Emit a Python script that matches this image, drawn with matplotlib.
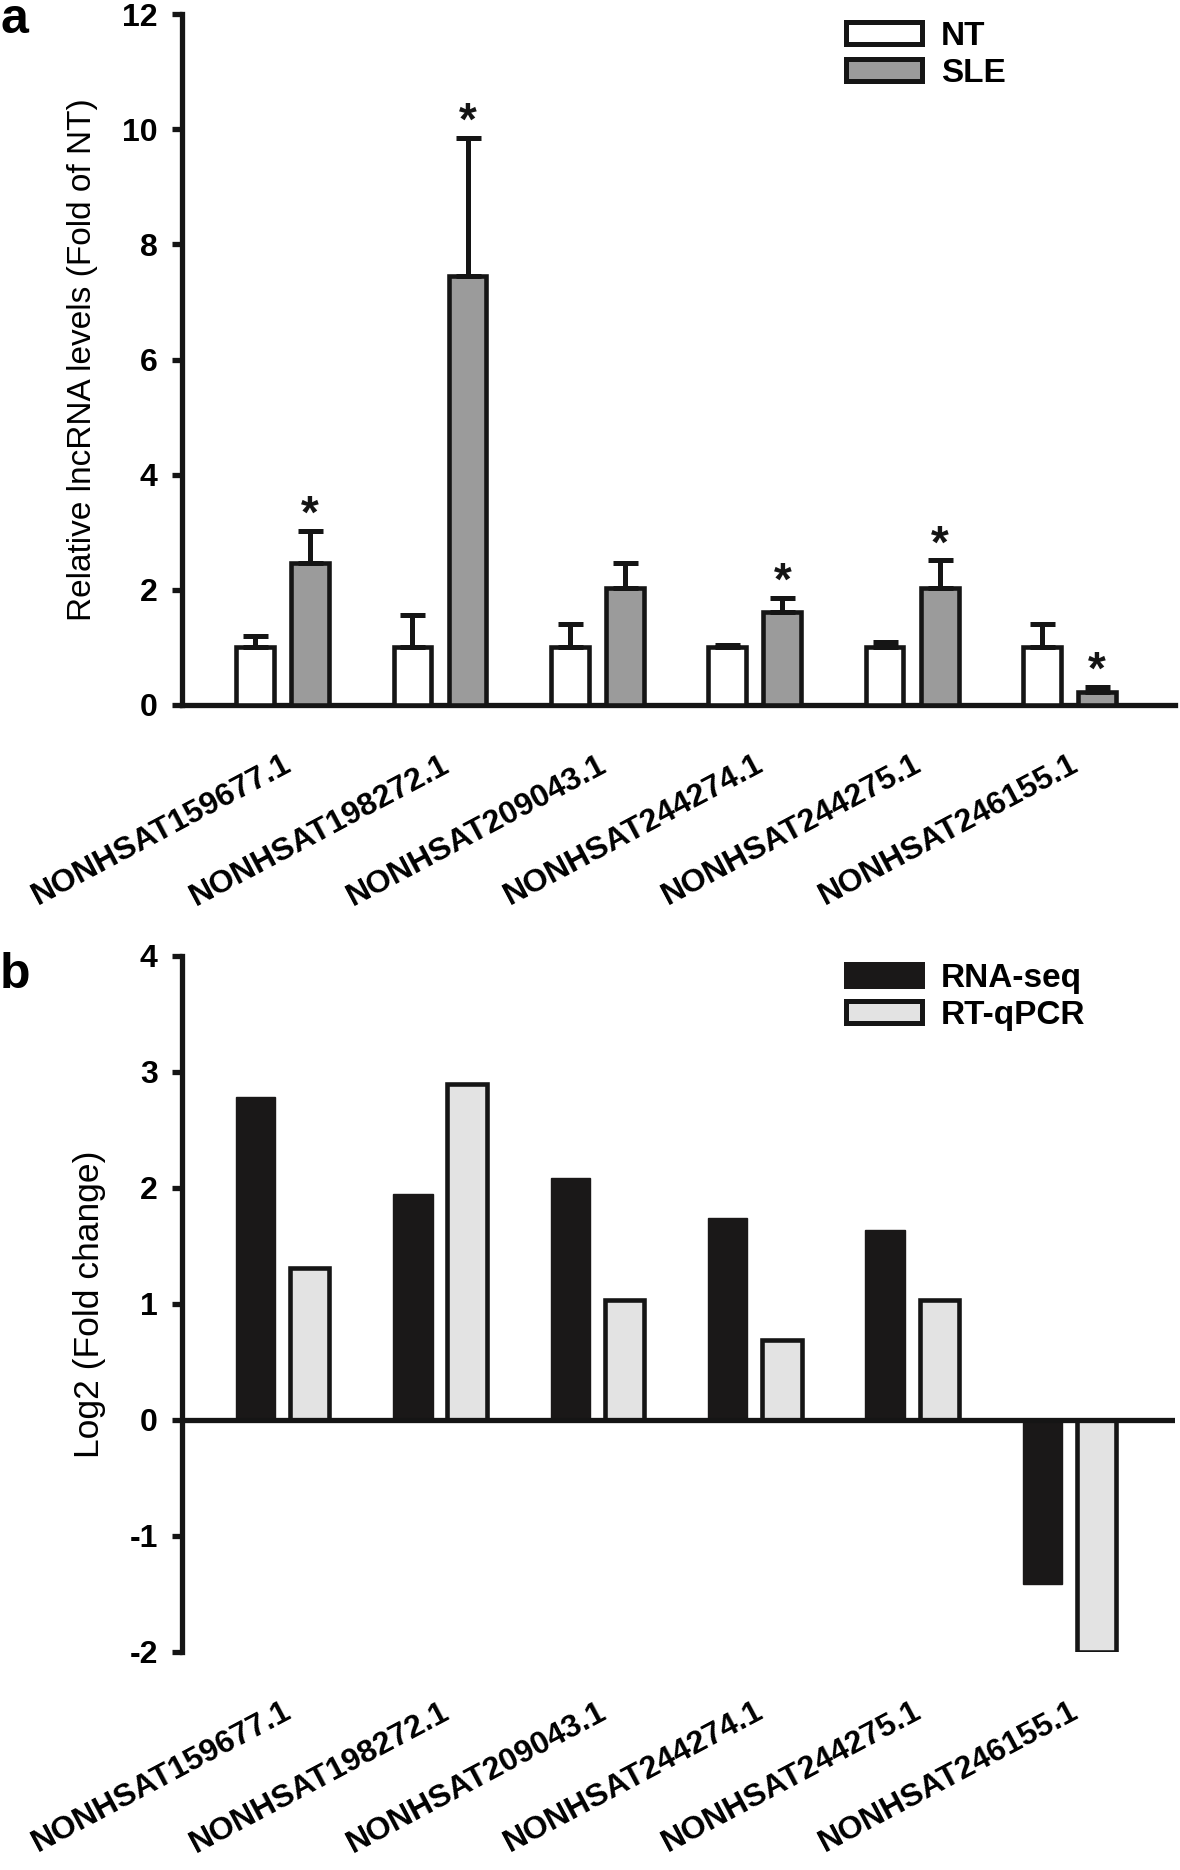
import matplotlib
matplotlib.use('Agg')
import matplotlib.pyplot as plt
import numpy as np
from matplotlib.patches import Patch

plt.rcParams['font.family'] = ['Liberation Sans', 'DejaVu Sans']
plt.rcParams['axes.unicode_minus'] = False

# data
genes = ['NONHSAT159677.1', 'NONHSAT198272.1', 'NONHSAT209043.1',
         'NONHSAT244274.1', 'NONHSAT244275.1', 'NONHSAT246155.1']
nt_mean = [1.0, 1.0, 1.0, 1.0, 1.0, 1.0]
nt_err = [0.20, 0.56, 0.41, 0.05, 0.09, 0.41]
sle_mean = [2.46, 7.45, 2.03, 1.61, 2.04, 0.23]
sle_err = [0.57, 2.40, 0.44, 0.25, 0.47, 0.09]
significant = [True, True, False, True, True, True]

rnaseq = [2.78, 1.95, 2.09, 1.74, 1.64, -1.41]
rtqpcr = [1.31, 2.90, 1.03, 0.69, 1.03, -2.00]

FS = 23
LW = 3.8
INK = '#151515'


def style_axis(ax):
    ax.spines['top'].set_visible(False)
    ax.spines['right'].set_visible(False)
    ax.spines['left'].set_linewidth(LW)
    ax.spines['bottom'].set_linewidth(LW)
    ax.spines['left'].set_color(INK)
    ax.spines['bottom'].set_color(INK)
    ax.tick_params(axis='y', direction='out', length=7, width=LW, pad=10.5,
                   labelsize=FS, color=INK)
    ax.tick_params(axis='x', length=0, pad=32)
    for lab in ax.get_yticklabels():
        lab.set_fontweight('bold')
    ax.set_xticks(np.arange(len(genes)))
    ax.set_xticklabels(genes, rotation=28, ha='right', va='top',
                       rotation_mode='anchor', fontsize=FS, fontweight='bold')
    ax.set_xlim(-0.64, 5.67)


def legend(ax, handles, top_px):
    ax.legend(handles=handles, loc='upper left',
              bbox_to_anchor=(829 / 1180, 1 - top_px / 1870),
              bbox_transform=fig.transFigure, frameon=False, borderpad=0,
              handlelength=2.3, handleheight=0.68, handletextpad=0.55,
              labelspacing=0.18, prop=dict(size=24, weight='bold'))


fig = plt.figure(figsize=(11.8, 18.7), dpi=100)
x = np.arange(len(genes))
err_style = dict(ecolor=INK, elinewidth=3.6, capsize=9, capthick=3.6)

# ---- panel a
ax1 = fig.add_axes([0.1542, 0.623, 0.8415, 0.3695])
off = 0.175
w = 0.24
ax1.bar(x - off, nt_mean, w, color='white', edgecolor=INK, linewidth=3.3,
        yerr=[np.zeros(6), nt_err], error_kw=err_style, zorder=3)
ax1.bar(x + off, sle_mean, w, color='#9b9b9b', edgecolor=INK, linewidth=3.3,
        yerr=[np.zeros(6), sle_err], error_kw=err_style, zorder=3)
for xi, m, e, s in zip(x, sle_mean, sle_err, significant):
    if s:
        ax1.text(xi + off, m + e + 0.05, '*', ha='center', va='baseline',
                 fontsize=33, fontweight='bold', color=INK)
ax1.set_ylim(0, 12)
ax1.set_yticks(range(0, 13, 2))
style_axis(ax1)
ax1.set_ylabel('Relative lncRNA levels (Fold of NT)', fontsize=24, labelpad=17)
legend(ax1, [Patch(facecolor='white', edgecolor=INK, linewidth=3.6, label='NT'),
             Patch(facecolor='#9b9b9b', edgecolor=INK, linewidth=3.6, label='SLE')], 4)

# ---- panel b
ax2 = fig.add_axes([0.1542, 0.1166, 0.8415, 0.3722])
off2 = 0.172
w2 = 0.25
ax2.bar(x - off2, rnaseq, w2, color='#1a1818', edgecolor='#1a1818', linewidth=1,
        zorder=3)
ax2.bar(x + off2, rtqpcr, w2, color='#e3e3e3', edgecolor=INK, linewidth=3.3,
        zorder=3)
ax2.set_ylim(-2, 4)
ax2.set_yticks(range(-2, 5))
style_axis(ax2)
ax2.spines['bottom'].set_visible(False)
ax2.axhline(0, color=INK, linewidth=LW, zorder=4)
ax2.set_ylabel('Log2 (Fold change)', fontsize=25.5, labelpad=17)
legend(ax2, [Patch(facecolor='#1a1818', edgecolor='#1a1818', linewidth=3.6, label='RNA-seq'),
             Patch(facecolor='#e3e3e3', edgecolor=INK, linewidth=3.6, label='RT-qPCR')], 946)

fig.text(0.0, 1 - 33 / 1870, 'a', fontsize=36, fontweight='bold', va='baseline', ha='left')
fig.text(0.0, 1 - 988 / 1870, 'b', fontsize=36, fontweight='bold', va='baseline', ha='left')

fig.savefig('out.png', dpi=100)
